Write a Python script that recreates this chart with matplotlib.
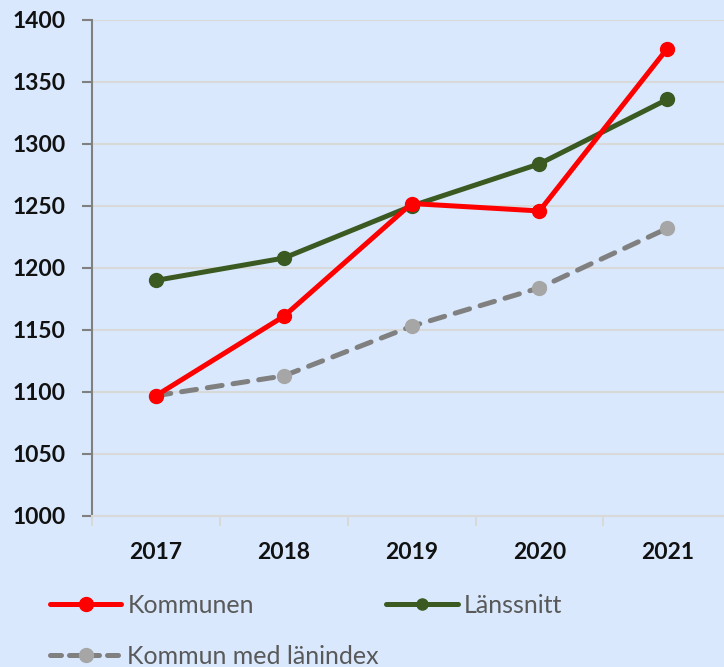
import matplotlib
matplotlib.use("Agg")
import matplotlib.pyplot as plt
from matplotlib.lines import Line2D

years = ["2017", "2018", "2019", "2020", "2021"]
kommunen = [1097, 1161, 1252, 1246, 1377]
lanssnitt = [1190, 1208, 1250, 1284, 1336]
kommun_lanindex = [1097, 1113, 1153, 1184, 1232]
yticks = [1000, 1050, 1100, 1150, 1200, 1250, 1300, 1350, 1400]

BG = "#D9E8FC"
GRID = "#D9D9D9"
RED = "#FF0000"
GREEN = "#3A5A22"
GRAY_LINE = "#808080"
GRAY_MARK = "#A6A6A6"
FONT = "Lato"

fig = plt.figure(figsize=(7.24, 6.67), dpi=100)
fig.patch.set_facecolor(BG)
ax = fig.add_axes([92/724, 1-516/667, 1-92/724+0.01, (516-20)/667])
ax.set_facecolor(BG)

x = list(range(len(years)))
ax.plot(x, kommun_lanindex, color=GRAY_LINE, lw=3.6, dashes=(3.0, 2.2),
        marker="o", ms=10, mfc=GRAY_MARK, mec=GRAY_MARK, zorder=3,
        label="Kommun med länindex", dash_capstyle="round")
ax.plot(x, lanssnitt, color=GREEN, lw=3.6, marker="o", ms=10, mfc=GREEN, mec=GREEN,
        zorder=4, label="Länssnitt")
ax.plot(x, kommunen, color=RED, lw=3.6, marker="o", ms=10, mfc=RED, mec=RED,
        zorder=5, label="Kommunen")

ax.set_ylim(1000, 1400)
ax.set_yticks(yticks)
ax.set_xlim(-0.5, 4.5)
ax.set_xticks(x)
ax.set_xticklabels(years)
ax.set_xticks([i - 0.5 for i in range(len(years) + 1)], minor=True)
ax.yaxis.grid(True, color=GRID, lw=1.5)
ax.set_axisbelow(True)

for s in ["top", "right"]:
    ax.spines[s].set_visible(False)
ax.spines["left"].set_color(GRAY_LINE)
ax.spines["left"].set_linewidth(1.5)
ax.spines["bottom"].set_color(GRID)
ax.spines["bottom"].set_linewidth(1.5)

ax.tick_params(axis="y", length=7, width=1.5, color=GRAY_LINE, pad=12)
ax.tick_params(axis="x", which="major", length=0, pad=19)
ax.tick_params(axis="x", which="minor", length=7, width=1.5, color=GRID)
for lab in ax.get_yticklabels() + ax.get_xticklabels():
    lab.set_fontfamily(FONT)
    lab.set_fontweight("bold")
    lab.set_fontsize(16.5)
    lab.set_color("#111111")

handles = [
    Line2D([], [], color=RED, lw=3.6, marker="o", ms=10, mfc=RED, mec=RED,
           solid_capstyle="round"),
    Line2D([], [], color=GRAY_LINE, lw=3.6, dashes=(2.2, 1.6), marker="o", ms=10,
           mfc=GRAY_MARK, mec=GRAY_MARK, dash_capstyle="round"),
    Line2D([], [], color=GREEN, lw=3.6, marker="o", ms=8, mfc=GREEN, mec=GREEN,
           solid_capstyle="round"),
]
labels = ["Kommunen", "Kommun med länindex", "Länssnitt"]
leg = fig.legend(handles, labels, ncol=2, loc="upper left",
                 bbox_to_anchor=(50/724, 1-594/667), frameon=False,
                 borderpad=0, borderaxespad=0,
                 handlelength=2.85, handletextpad=0.24, columnspacing=0.3,
                 labelspacing=1.1,
                 prop={"family": FONT, "size": 18})
for t in leg.get_texts():
    t.set_color("#595959")

fig.savefig("out.png", dpi=100, facecolor=BG)
